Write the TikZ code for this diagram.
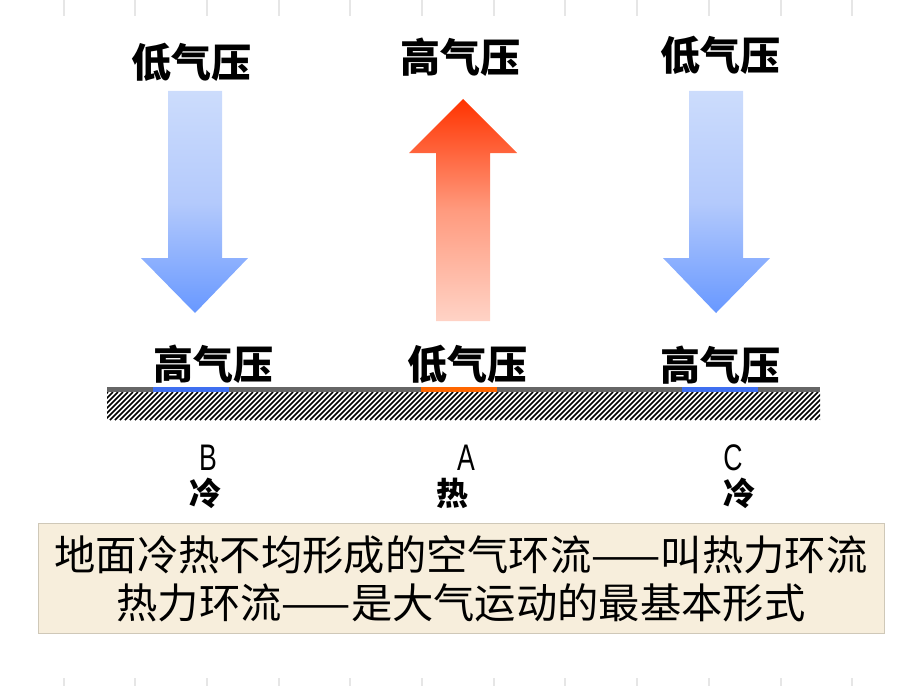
\documentclass[tikz,border=0pt]{standalone}
\usepackage{fontspec}
\newfontfamily\cjk{Noto Sans CJK SC}
\newfontfamily\latn[FakeStretch=0.72]{Liberation Sans}
\definecolor{tickgray}{HTML}{E6E6E6}
\definecolor{groundgray}{HTML}{666666}
\definecolor{segblue}{HTML}{3F6FF0}
\definecolor{segorange}{HTML}{FF6600}
\definecolor{coldtop}{HTML}{CCDCFC}
\definecolor{coldmid}{HTML}{B4CAFC}
\definecolor{coldbot}{HTML}{6898FF}
\definecolor{hottop}{HTML}{FF3300}
\definecolor{hotmid}{HTML}{FF9A7E}
\definecolor{hotbot}{HTML}{FFD3C6}
\definecolor{boxfill}{HTML}{F7EEDC}
\definecolor{boxborder}{HTML}{CFC8B8}
\tikzset{
  presslabel/.style={font={\fontsize{40}{44}\selectfont\cjk\bfseries}, inner sep=0pt},
  letterlabel/.style={font={\fontsize{37}{40}\selectfont\latn}, inner sep=0pt},
  templabel/.style={font={\fontsize{32}{36}\selectfont\cjk\bfseries}, inner sep=0pt},
  boxtext/.style={font={\fontsize{41.3}{44}\selectfont\cjk}, inner sep=0pt},
  coldarrow/.style={top color=coldtop, bottom color=coldbot, middle color=coldmid},
  hotarrow/.style={top color=hottop, bottom color=hotbot, middle color=hotmid},
  tick/.style={fill=tickgray},
}
\begin{document}
\begin{tikzpicture}[x=1pt,y=-1pt]
\useasboundingbox (0,0) rectangle (920,690);
% ticks
\foreach \i in {0,...,11} {
  \fill[tick] ({62.5+71.7*\i},0) rectangle ++(2,16);
  \fill[tick] ({62.5+71.7*\i},678) rectangle ++(2,8);
}
% arrows
\shade[coldarrow] (168,91) -- (222,91) -- (222,258) -- (248,258) -- (195,313) -- (141,258) -- (168,258) -- cycle;
\shade[coldarrow] (689,91) -- (743,91) -- (743,258) -- (770,258) -- (716,313) -- (663,258) -- (689,258) -- cycle;
\shade[hotarrow] (436,321) -- (490,321) -- (490,153) -- (517,153) -- (463,99) -- (409,153) -- (436,153) -- cycle;
% top labels
\node[presslabel] (tl) at (191,62) {低气压};
\node[presslabel] (tm) at (460,57) {高气压};
\node[presslabel] (tr) at (720,55) {低气压};
% bottom labels
\node[presslabel] (bl) at (213,364) {高气压};
\node[presslabel] (bm) at (467,364) {低气压};
\node[presslabel] (br) at (720,365) {高气压};
% ground
\fill[white] (107,392) rectangle (820,420);
\begin{scope}
  \clip (107,392) rectangle (820,420);
  \foreach \x in {75,80,...,820} \draw[line width=1.5pt] (\x,420) -- ({\x+28},392);
\end{scope}
\fill[groundgray] (107,387) rectangle (820,392);
\fill[segblue] (153,387) rectangle (229,392);
\fill[segorange] (421,387) rectangle (497,392);
\fill[segblue] (682,387) rectangle (758,392);
% letters
\node[letterlabel] (B) at (208,458) {B};
\node[letterlabel] (A) at (466,458) {A};
\node[letterlabel] (C) at (733,458) {C};
\node[templabel] (tB) at (205,493) {冷};
\node[templabel] (tA) at (452,493) {热};
\node[templabel] (tC) at (739,493) {冷};
% box
\fill[boxfill, draw=boxborder, line width=0.8pt] (38,523) rectangle (884,633);
\node[boxtext] (l1) at (461,555) {地面冷热不均形成的空气环流——叫热力环流};
\node[boxtext] (l2) at (461,603) {热力环流——是大气运动的最基本形式};
\end{tikzpicture}
\end{document}
